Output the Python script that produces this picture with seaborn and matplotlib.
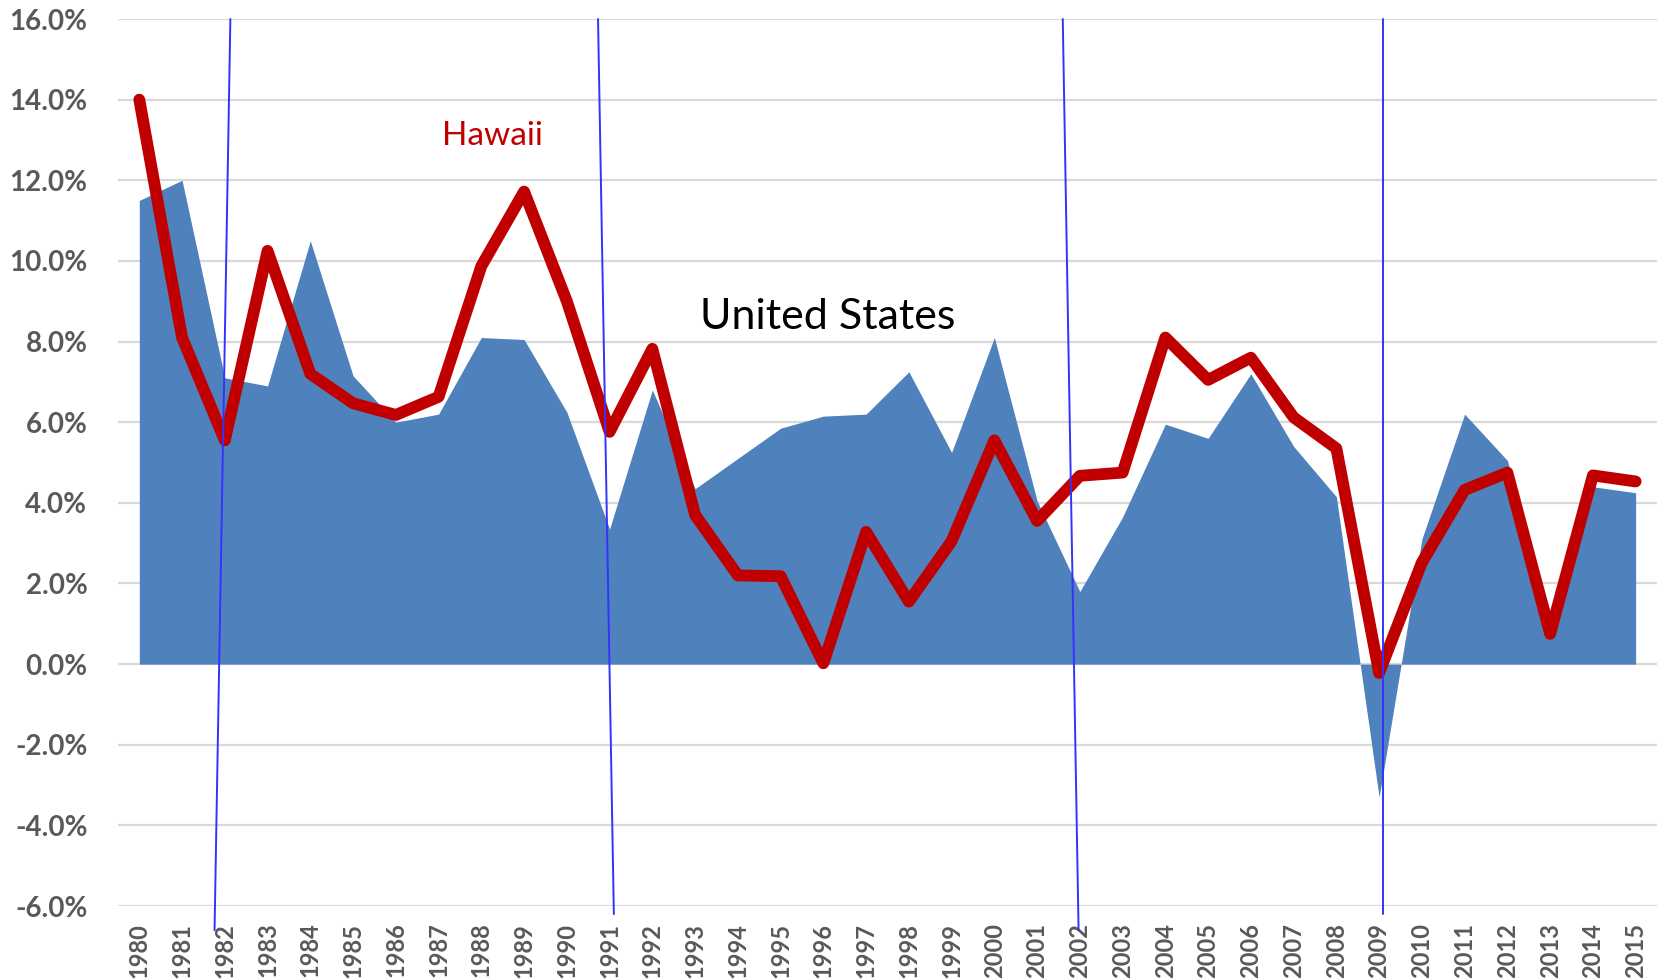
import numpy as np
import pandas as pd
import matplotlib
matplotlib.use("Agg")
import matplotlib.pyplot as plt
import seaborn as sns

# =====================================================
# DATA
# =====================================================

years = list(range(1980, 2016))

us_growth = [11.5, 12.0, 7.1, 6.9, 10.5, 7.15, 6.0, 6.2, 8.1, 8.05,
             6.25, 3.35, 6.8, 4.35, 5.1, 5.85, 6.15, 6.2, 7.25, 5.25,
             8.1, 4.05, 1.8, 3.65, 5.95, 5.6, 7.2, 5.4, 4.15, -3.3,
             3.1, 6.2, 5.05, 1.3, 4.4, 4.25]

hawaii_growth = [14.0, 8.1, 5.55, 10.25, 7.2, 6.47, 6.18, 6.63, 9.87, 11.72,
                 9.0, 5.76, 7.82, 3.7, 2.2, 2.18, 0.02, 3.28, 1.55, 3.05,
                 5.55, 3.55, 4.67, 4.75, 8.1, 7.05, 7.6, 6.12, 5.35, -0.22,
                 2.52, 4.32, 4.75, 0.75, 4.68, 4.53]

# recession marker lines (hand drawn, slightly slanted)
rec_x_top = [1982.13, 1990.73, 2001.60, 2009.08]
rec_x_bottom = [1981.76, 1991.10, 2001.97, 2009.08]
rec_y_bottom = [-6.6, -6.2, -6.6, -6.2]

y_ticks = list(range(-6, 18, 2))

df = pd.DataFrame({"year": years, "us": us_growth, "hawaii": hawaii_growth})

# =====================================================
# PLOT
# =====================================================

sns.set_theme(style="white")
plt.rcParams["font.family"] = ["Lato", "DejaVu Sans"]

fig = plt.figure(figsize=(16.61, 9.80), dpi=100)
ax = fig.add_axes([0.0710, 0.0755, 0.9266, 0.9051])

# gridlines
for v in y_ticks:
    ax.axhline(v, color="#D9D9D9", linewidth=1.6, zorder=0)

# US area
ax.fill_between(df["year"], 0, df["us"], color="#4F81BD", linewidth=0, zorder=2)

# Hawaii line
sns.lineplot(data=df, x="year", y="hawaii", ax=ax, color="#C00000",
             linewidth=8.5, zorder=4, solid_capstyle="round",
             solid_joinstyle="round")

# recession markers
for xt, xb, yb in zip(rec_x_top, rec_x_bottom, rec_y_bottom):
    ax.plot([xt, xb], [16.0, yb], color="#3333FF", linewidth=1.4,
            zorder=5, clip_on=False)

ax.text(1988.27, 13.1, "Hawaii", color="#C00000", fontsize=24,
        ha="center", va="center", zorder=6)
ax.text(1996.1, 8.6, "United States", color="black", fontsize=31,
        ha="center", va="center", zorder=6)

ax.set_xlim(1979.5, 2015.5)
ax.set_ylim(-6, 16)
ax.set_xticks(years)
ax.set_xticklabels([str(y) for y in years], rotation=90,
                   fontsize=17, fontweight="bold", color="#595959")
ax.set_yticks(y_ticks)
ax.set_yticklabels([f"{v:.1f}%" for v in y_ticks],
                   fontsize=20, fontweight="bold", color="#595959")
ax.tick_params(axis="x", length=0, pad=12)
ax.tick_params(axis="y", length=0, pad=22)
ax.set_xlabel("")
ax.set_ylabel("")
for s in ax.spines.values():
    s.set_visible(False)
ax.grid(False)

fig.savefig("out.png", dpi=100)
